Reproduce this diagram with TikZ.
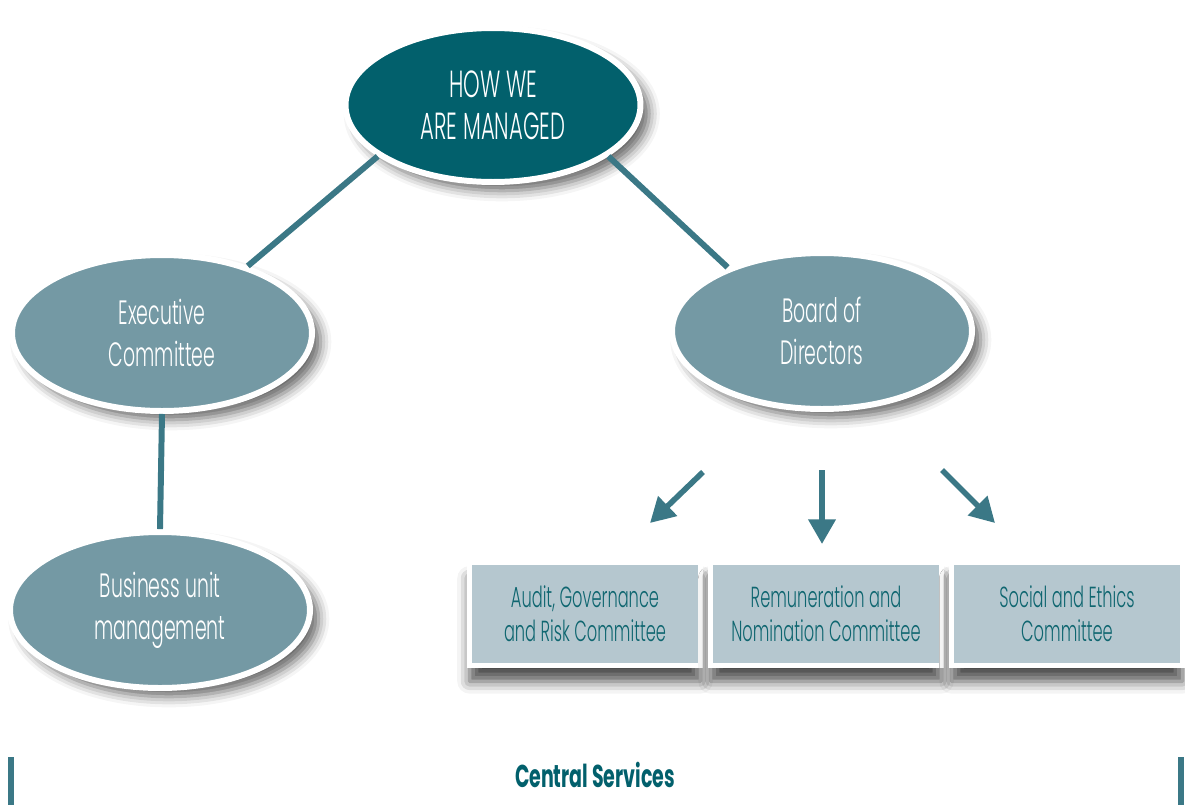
\documentclass[tikz,border=0pt]{standalone}
\usepackage{fontspec}
\setmainfont{Poppins}[UprightFont=* Light,BoldFont=* Bold,
  FakeStretch=0.56,BoldFeatures={FakeStretch=0.6}]
\usepackage{xcolor}
\usepackage{tikz}
\usetikzlibrary{arrows.meta,shapes.geometric,shadows.blur}

\definecolor{deepteal}{HTML}{02606C}
\definecolor{greyteal}{HTML}{7499A4}
\definecolor{linkteal}{HTML}{3B7886}
\definecolor{boxfill}{HTML}{B5C7CF}
\definecolor{boxtext}{HTML}{0F6670}

\tikzset{
  oval/.style={ellipse, draw=white, line width=3.4pt, align=center, text=white,
    minimum width=6.0cm, minimum height=3.12cm,
    blur shadow={shadow xshift=5pt, shadow yshift=-5pt, shadow blur radius=6pt, shadow opacity=60}},
  mainoval/.style={oval, fill=deepteal, minimum width=5.9cm, minimum height=3.08cm,
    font=\fontsize{21.5}{23.8}\selectfont},
  suboval/.style={oval, fill=greyteal, font=\fontsize{19.2}{23.8}\selectfont},
  combox/.style={rectangle, draw=white, line width=2.8pt, fill=boxfill, text=boxtext,
    align=center, minimum width=4.62cm, minimum height=2.06cm,
    font=\fontsize{16.5}{19.3}\selectfont,
    blur shadow={shadow xshift=0pt, shadow yshift=-9pt, shadow blur radius=7pt, shadow opacity=70}},
  link/.style={linkteal, line width=3.4pt},
  downarrow/.style={linkteal, line width=3.2pt, -{Triangle[length=14pt,width=15pt]}}
}

\begin{document}
\begin{tikzpicture}[x=0.02cm,y=-0.02cm]
  \useasboundingbox (0,0) rectangle (1185,805);

  % ovals
  \node[mainoval] (top) at (493,105) {HOW WE\\ARE MANAGED};
  \node[suboval] (exec) at (162,333) {Executive\\Committee};
  \node[suboval] (board) at (822,331) {Board of\\Directors};
  \node[suboval] (bum) at (160,610) {Business unit\\management};

  % committees
  \node[combox] (agr) at (585,614) {Audit, Governance\\and Risk Committee};
  \node[combox] (rnc) at (826,614) {Remuneration and\\Nomination Committee};
  \node[combox] (sec) at (1067,614) {Social and Ethics\\Committee};

  % links between ovals
  \draw[link] (top.204) -- (exec.38);
  \draw[link] (top.336) -- (board.146);
  \draw[link] (exec.south) -- (bum.north);

  % arrows down to committees
  \coordinate (agrtail) at (703,472);
  \coordinate (agrtip) at (650,523);
  \coordinate (rnctail) at (822,470);
  \coordinate (rnctip) at (822,544);
  \coordinate (sectail) at (942,470);
  \coordinate (sectip) at (995,523);
  \draw[downarrow] (agrtail) -- (agrtip);
  \draw[downarrow] (rnctail) -- (rnctip);
  \draw[downarrow] (sectail) -- (sectip);

  % central services band
  \fill[linkteal] (8,757) rectangle (14,805);
  \fill[linkteal] (1178,757) rectangle (1184,805);
  \node[text=deepteal, font=\bfseries\fontsize{18}{20}\selectfont] (cs) at (595,775) {Central Services};
\end{tikzpicture}
\end{document}
